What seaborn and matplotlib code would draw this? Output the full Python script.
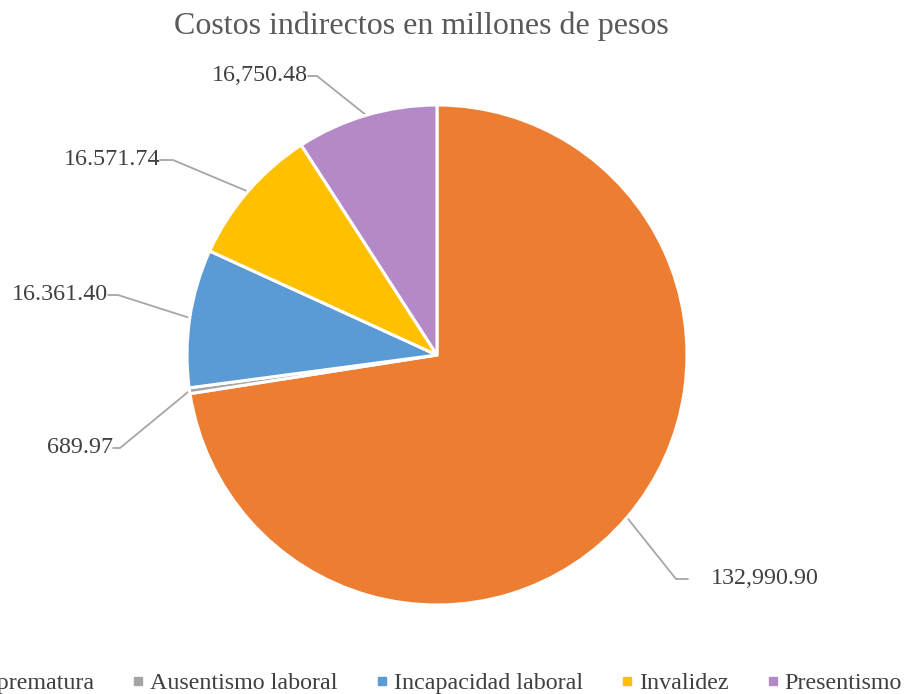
import numpy as np
import seaborn as sns
import matplotlib.pyplot as plt
from matplotlib.lines import Line2D

# datos
categorias = ['Mortalidad prematura', 'Ausentismo laboral', 'Incapacidad laboral',
              'Invalidez', 'Presentismo']
valores = [132990.90, 689.97, 16361.40, 16571.74, 16750.48]
etiquetas = ['132,990.90', '689.97', '16.361.40', '16.571.74', '16,750.48']
titulo = 'Costos indirectos en millones de pesos'

colores = sns.color_palette(['#ED7D31', '#A5A5A5', '#5B9BD5', '#FFC000', '#B38AC7'])

sns.set_theme(style='white')
plt.rcParams['font.family'] = ['Liberation Serif', 'DejaVu Serif']

fig = plt.figure(figsize=(9.06, 6.94), dpi=100)
ax = fig.add_axes([0, 0, 1, 1])

wedges, _ = ax.pie(valores, colors=colores, startangle=90, counterclock=False,
                   radius=1, wedgeprops=dict(edgecolor='white', linewidth=2.2))

# posiciones de las etiquetas (x del codo, x del borde del texto, y, alineacion)
pos = [(0.956, 1.004, -0.896, 'left'),
       (-1.268, -1.296, -0.372, 'right'),
       (-1.276, -1.316, 0.24, 'right'),
       (-1.056, -1.108, 0.78, 'right'),
       (-0.48, -0.516, 1.116, 'right')]

for w, lab, (xc, xe, y, ha) in zip(wedges, etiquetas, pos):
    ang = np.deg2rad((w.theta1 + w.theta2) / 2)
    xm, ym = np.cos(ang), np.sin(ang)
    ax.plot([xm, xc, xe], [ym, y, y], color='#A6A6A6', lw=1.3, zorder=0)
    xt = xe + 0.09 if ha == 'left' else xe
    ax.text(xt, y, lab, ha=ha, va='center', fontsize=17.3, color='#404040')

ax.set_xlim(-437 / 250, (906 - 437) / 250)
ax.set_ylim((355 - 694) / 250, 355 / 250)
ax.set_aspect('auto')
ax.axis('off')

fig.text(421 / 906, 1 - 26 / 694, titulo, ha='center', va='center',
         fontsize=23, color='#595959')

handles = [Line2D([], [], marker='s', ls='', markersize=6, color=c) for c in colores]
fig.legend(handles, categorias, loc='center right', ncol=5,
           bbox_to_anchor=(902 / 906, 1 - 683 / 694), frameon=False,
           fontsize=17.3, handlelength=0.5, handletextpad=0.25, columnspacing=1.58,
           borderpad=0, borderaxespad=0, labelcolor='#404040')

fig.savefig('out.png', dpi=100)
